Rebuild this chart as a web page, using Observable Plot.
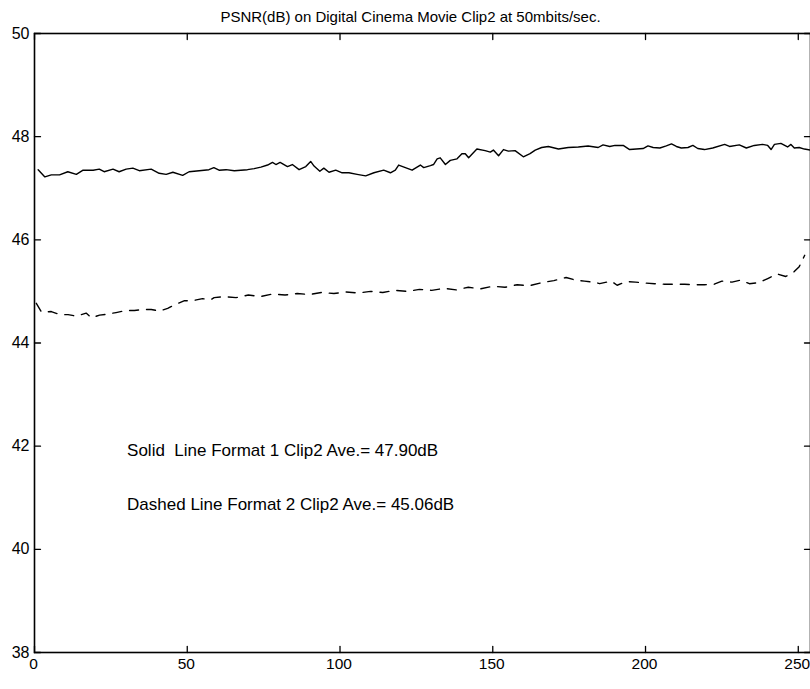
<!DOCTYPE html>
<html>
<head>
<meta charset="utf-8">
<script src="https://cdn.jsdelivr.net/npm/d3@7"></script>
<script src="https://cdn.jsdelivr.net/npm/@observablehq/plot@0.6"></script>
<style>
  html, body { margin: 0; padding: 0; background: #fff; }
  #chart svg { display: block; }
</style>
</head>
<body>
<div id="chart"></div>
<script>
const titleText = "PSNR(dB) on Digital Cinema Movie Clip2 at 50mbits/sec.";
const xTicks = [0, 50, 100, 150, 200, 250];
const yTicks = [38, 40, 42, 44, 46, 48, 50];

// Solid line: Format 1
const solidX = [1.2, 3.4, 5.5, 8.2, 10.9, 13.7, 15.9, 19.2, 21.2, 22.8, 25.7, 27.7, 30, 32.2, 34.3, 38.2, 40.8, 43.1, 45.3, 48.5, 50.6, 53.9, 57.1, 58.7, 60.4, 62.7, 65.4, 69.7, 71.9, 74.1, 76.3, 77.9, 79, 80.4, 82.8, 84.4, 86.6, 88.8, 90.4, 91.5, 93.4, 94.7, 96.4, 98.6, 100.7, 102.9, 105.6, 108.4, 111.1, 114.3, 116.5, 118.1, 119.2, 121.4, 123.6, 126.3, 127.4, 129.6, 130.6, 131.8, 132.8, 134.5, 136.1, 138.3, 139.9, 141, 142.1, 144.8, 147.5, 149.2, 150.2, 151.9, 153.5, 155.1, 157.3, 160, 162.2, 163.9, 166, 168.2, 171.5, 174.7, 178, 181.2, 184.5, 186.1, 188.3, 190, 192.7, 194.8, 199.2, 200.8, 202.5, 204.7, 206.8, 208.5, 210.1, 211.7, 213.9, 215.5, 217.1, 219.3, 222, 225.9, 227.5, 230.7, 233, 235.6, 238.3, 240, 241.1, 242.2, 244.3, 246.5, 247.6, 248.7, 250.3, 252, 254];
const solidY = [47.36, 47.22, 47.26, 47.26, 47.32, 47.27, 47.35, 47.35, 47.37, 47.32, 47.37, 47.32, 47.37, 47.39, 47.34, 47.37, 47.29, 47.27, 47.31, 47.25, 47.32, 47.34, 47.36, 47.40, 47.35, 47.36, 47.34, 47.36, 47.38, 47.41, 47.45, 47.50, 47.46, 47.50, 47.42, 47.46, 47.36, 47.42, 47.52, 47.43, 47.33, 47.39, 47.31, 47.35, 47.30, 47.30, 47.27, 47.24, 47.30, 47.35, 47.30, 47.35, 47.45, 47.40, 47.35, 47.45, 47.40, 47.44, 47.46, 47.57, 47.59, 47.46, 47.54, 47.57, 47.67, 47.67, 47.59, 47.76, 47.73, 47.70, 47.74, 47.63, 47.75, 47.72, 47.73, 47.61, 47.67, 47.74, 47.79, 47.81, 47.76, 47.79, 47.80, 47.82, 47.79, 47.84, 47.81, 47.83, 47.83, 47.75, 47.77, 47.82, 47.79, 47.78, 47.82, 47.86, 47.81, 47.78, 47.79, 47.83, 47.77, 47.75, 47.78, 47.85, 47.81, 47.84, 47.78, 47.83, 47.85, 47.83, 47.75, 47.85, 47.87, 47.80, 47.85, 47.78, 47.79, 47.76, 47.74];

// Dashed line: Format 2
const dashedX = [0.6, 2.3, 5.5, 8.3, 11, 13.7, 16.9, 18.6, 21.3, 24, 26.7, 30, 32.7, 35.4, 38.2, 40.9, 43.6, 45.8, 49.1, 51.8, 55, 57.7, 58.8, 62.1, 66, 70, 74, 78, 82, 86, 90, 94, 98, 102, 106, 110, 114, 118, 122, 126, 130, 134, 138, 142, 146, 150, 154, 158, 162, 166, 170, 174, 177, 180, 183.9, 185, 188.8, 190.7, 193.7, 196.7, 200.2, 203, 206.2, 209.5, 212.8, 216, 219.3, 222.5, 225, 228.3, 231.2, 234, 237.2, 240, 243, 245.9, 248.6, 250.3, 252.1];
const dashedY = [44.77, 44.60, 44.61, 44.55, 44.55, 44.52, 44.58, 44.49, 44.54, 44.56, 44.59, 44.63, 44.63, 44.65, 44.65, 44.62, 44.67, 44.74, 44.82, 44.82, 44.86, 44.84, 44.88, 44.90, 44.88, 44.93, 44.90, 44.95, 44.93, 44.96, 44.94, 44.98, 44.96, 44.99, 44.97, 45.00, 44.98, 45.02, 45.00, 45.04, 45.02, 45.06, 45.03, 45.08, 45.05, 45.10, 45.08, 45.13, 45.11, 45.17, 45.21, 45.27, 45.22, 45.20, 45.17, 45.15, 45.20, 45.12, 45.19, 45.18, 45.16, 45.15, 45.14, 45.14, 45.14, 45.13, 45.13, 45.14, 45.20, 45.18, 45.22, 45.15, 45.17, 45.25, 45.34, 45.29, 45.38, 45.48, 45.70];

const noteText = ["Solid  Line Format 1 Clip2 Ave.= 47.90dB", "Dashed Line Format 2 Clip2 Ave.= 45.06dB"];
const noteX = [30.3, 30.3];
const noteY = [41.92, 40.87];

const solid = solidX.map((x, i) => ({x, y: solidY[i]}));
const dashed = dashedX.map((x, i) => ({x, y: dashedY[i]}));
const notes = noteText.map((t, i) => ({t, x: noteX[i], y: noteY[i]}));

// straight tick segment shape for inward ticks
const tickShape = {draw(context, l) { context.moveTo(0, 0); context.lineTo(0, -l); }};
const tickOpts = {length: 6, anchor: "start", shape: tickShape, stroke: "#000", strokeWidth: 1.3};

const chart = Plot.plot({
  width: 810,
  height: 689,
  marginTop: 33,
  marginBottom: 37,
  marginLeft: 34,
  marginRight: 0,
  style: {fontFamily: "'Liberation Sans', Arial, Helvetica, sans-serif", fontSize: "16px", color: "#000", background: "#fff"},
  x: {domain: [0, 254], label: null},
  y: {domain: [38, 50], label: null},
  marks: [
    Plot.frame({stroke: "#000", strokeWidth: 1.6}),
    Plot.axisX(xTicks, {anchor: "bottom", tickSize: 0, tickPadding: 5, fontSize: 15.5, dx: -1, label: null}),
    Plot.axisY(yTicks, {anchor: "left", tickSize: 0, tickPadding: 5, fontSize: 16, tickFormat: d3.format("d"), label: null}),
    Plot.vector(xTicks, {x: d => d, frameAnchor: "bottom", rotate: 0, ...tickOpts}),
    Plot.vector(xTicks, {x: d => d, frameAnchor: "top", rotate: 180, ...tickOpts}),
    Plot.vector(yTicks, {y: d => d, frameAnchor: "left", rotate: 90, ...tickOpts}),
    Plot.vector(yTicks, {y: d => d, frameAnchor: "right", rotate: 270, ...tickOpts}),
    Plot.line(solid, {x: "x", y: "y", stroke: "#000", strokeWidth: 1.4}),
    Plot.line(dashed, {x: "x", y: "y", stroke: "#000", strokeWidth: 1.4, strokeDasharray: "9,8"}),
    Plot.text(notes, {x: "x", y: "y", text: "t", textAnchor: "start", fontSize: 17, fill: "#000"}),
    Plot.text([titleText], {frameAnchor: "top", dy: -22, dx: -12, fontSize: 15, fill: "#000"})
  ]
});
document.getElementById("chart").appendChild(chart);
</script>
</body>
</html>
